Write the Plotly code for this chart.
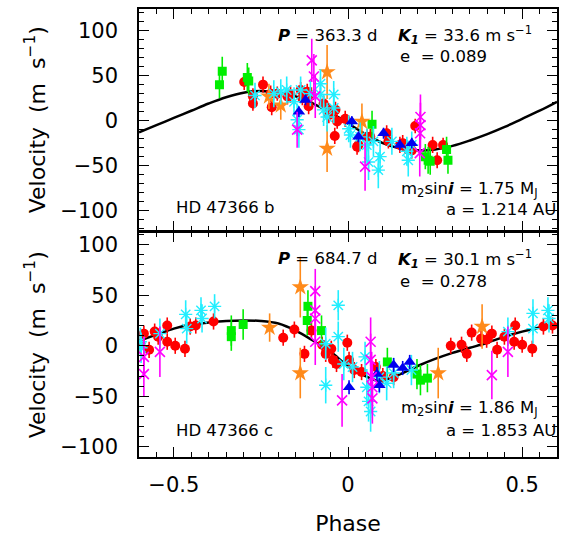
import plotly.graph_objects as go

# ---------------- Panel b (top) ----------------
b_curve_phase = [-0.6, -0.55, -0.5, -0.45, -0.4, -0.35, -0.3, -0.25, -0.2, -0.15, -0.1, -0.05,
                 0.0, 0.05, 0.1, 0.15, 0.2, 0.25, 0.3, 0.35, 0.4, 0.45, 0.5, 0.55, 0.6]
b_curve_rv = [-13, -5, 3, 11, 19, 26, 31, 33, 31, 27, 19, 9,
              -3, -15, -25, -31, -33, -32, -28, -22, -15, -7, 2, 11, 21]

b_red_phase = [-0.298, -0.273, -0.273, -0.244, -0.222, -0.219, -0.203, -0.174, -0.165, -0.136,
               -0.131, -0.117, -0.113, -0.105, -0.070, -0.060, -0.055, -0.036, -0.031, -0.008,
               -0.038, 0.026, 0.030, 0.054, 0.064, 0.111, 0.116, 0.149, 0.157, 0.164, 0.183,
               0.193, 0.243, 0.256, 0.273]
b_red_rv = [43, 27, 19, 40, 30, 15, 30, 27, 29, 34,
            25, 32, 16, 28, 19, 14, 6, 12, -1, 2,
            -17, -29, -27, -18, -18, -14, -23, -27, -25, -29, -33,
            -6, -27, -44, -27]
b_red_err = [9, 9, 8, 9, 9, 9, 8, 9, 9, 9,
             8, 9, 9, 9, 9, 8, 9, 9, 8, 9,
             9, 9, 8, 9, 9, 9, 8, 9, 9, 8, 9,
             8, 9, 9, 8]

b_cyan_phase = [-0.267, -0.213, -0.193, -0.176, -0.155, -0.146, -0.141, -0.136, -0.108, -0.079,
                -0.079, -0.070, -0.060, -0.041, -0.041, 0.002, 0.007, 0.035, 0.054, 0.059,
                0.073, 0.087, 0.092, 0.126, 0.169, 0.173, 0.183]
b_cyan_rv = [28, 30, 32, 34, 21, 1, -10, 34, 30, 41,
             29, 12, 4, 29, 14, -9, -16, -18, -27, -46,
             -23, -55, -40, -23, -34, -44, -27]
b_cyan_err = [14, 15, 14, 15, 16, 18, 20, 15, 14, 16,
              15, 18, 16, 15, 17, 15, 14, 16, 18, 20,
              17, 20, 18, 15, 16, 18, 15]

b_mag_phase = [-0.146, -0.104, -0.098, -0.094, 0.049, 0.208, 0.208, 0.207, 0.206]
b_mag_rv = [-10, 67, 49, 27, -51, 4, -5, -14, -36]
b_mag_err = [20, 24, 25, 24, 27, 25, 25, 24, 26]

b_green_phase = [-0.369, -0.361, -0.289, -0.285, 0.069, 0.222, 0.230, 0.236, 0.283, 0.287]
b_green_rv = [40, 55, 48, 44, -4, -40, -44, -45, -32, -44]
b_green_err = [15, 16, 16, 15, 15, 14, 15, 15, 14, 15]

b_orange_phase = [-0.227, -0.193, -0.060, -0.060, 0.040]
b_orange_rv = [27, 17, 54, -31, -1]
b_orange_err = [14, 16, 30, 26, 20]

b_blue_phase = [-0.141, -0.122, 0.011, 0.030, 0.102, 0.149, 0.183]
b_blue_rv = [10, 23, -1, -18, -14, -27, -25]
b_blue_err = [6, 6, 6, 6, 6, 6, 6]

# ---------------- Panel c (bottom) ----------------
c_curve_phase = [-0.6, -0.55, -0.5, -0.45, -0.4, -0.35, -0.3, -0.25, -0.2, -0.15, -0.1, -0.05,
                 0.0, 0.05, 0.08, 0.1, 0.15, 0.2, 0.25, 0.3, 0.35, 0.4, 0.45, 0.5, 0.55, 0.6]
c_curve_rv = [5, 11, 17, 21, 23, 24.5, 25, 24.5, 22, 15, 5, -6,
              -20, -30, -34, -34, -28, -20, -13, -7, -2, 3, 9, 14, 18, 21]

c_red_phase = [-0.596, -0.586, -0.571, -0.555, -0.545, -0.519, -0.519, -0.496, -0.468, -0.453,
               -0.437, -0.386, -0.186, -0.154, -0.125, -0.105, -0.074, -0.064, -0.048, -0.043,
               -0.033, -0.002, 0.003, 0.018, 0.039, 0.080, 0.100, 0.131, 0.295, 0.326,
               0.341, 0.355, 0.382, 0.398, 0.413, 0.428, 0.449, 0.480, 0.477, 0.500,
               0.529, 0.561, 0.587]
c_red_rv = [2, 12, -4, 14, 9, 20, 4, 0, -3, 19,
            20, 24, 8, 16, -8, 15, 1, -8, -3, -14,
            -18, 3, -14, -24, -26, -21, -30, -31, 0, 1,
            -8, 13, 7, 6, 12, -4, 9, 20, 4, 1,
            -3, 19, 20]
c_red_err = [8, 8, 8, 8, 8, 8, 8, 8, 8, 8,
             8, 8, 8, 8, 8, 8, 8, 8, 8, 8,
             8, 8, 8, 8, 8, 8, 8, 8, 8, 8,
             8, 8, 8, 8, 8, 8, 8, 8, 8, 8,
             8, 8, 8]

c_cyan_phase = [-0.596, -0.594, -0.540, -0.466, -0.463, -0.422, -0.419, -0.383, -0.064, -0.064,
                -0.028, -0.028, -0.012, 0.013, 0.049, 0.054, 0.059, 0.065, 0.090, 0.111,
                0.131, 0.182, 0.459, 0.531, 0.531, 0.574, 0.577]
c_cyan_rv = [4, -2, 12, 31, 17, 35, 27, 39, 2, -39,
             40, 9, -18, -21, -11, -41, -55, -65, -31, -37,
             -27, -24, 14, 32, 17, 35, 27]
c_cyan_err = [14, 15, 15, 14, 15, 13, 14, 12, 16, 18,
              15, 15, 16, 15, 15, 18, 20, 20, 16, 17,
              15, 15, 14, 14, 15, 13, 14]

c_mag_phase = [-0.586, -0.586, -0.540, -0.094, -0.094, -0.094, -0.094, -0.017, 0.065, 0.065,
               0.068, 0.070, 0.070, 0.413, 0.459]
c_mag_rv = [-11, -28, -6, 54, 35, 27, 4, -54, 4, -14,
            -31, -41, -52, -29, -6]
c_mag_err = [20, 22, 25, 22, 24, 22, 23, 26, 24, 26,
             25, 26, 25, 24, 25]

c_green_phase = [-0.335, -0.335, -0.301, -0.115, -0.117, -0.076, 0.113, 0.198, 0.208, 0.228]
c_green_rv = [15, 9, 21, 39, 25, 15, -16, -28, -34, -32]
c_green_err = [15, 14, 15, 16, 15, 15, 14, 15, 15, 14]

c_orange_phase = [-0.225, -0.137, -0.137, 0.259, 0.385]
c_orange_rv = [18, 58, -27, -27, 19]
c_orange_err = [14, 30, 25, 25, 22]

c_blue_phase = [0.003, 0.083, 0.090, 0.131, 0.157, 0.177]
c_blue_rv = [-41, -28, -39, -19, -22, -16]
c_blue_err = [7, 7, 7, 7, 7, 7]

RED = "#ff0000"
CYAN = "#22eeff"
MAG = "#ff00ff"
GREEN = "#00ee00"
ORANGE = "#ff8a1a"
BLUE = "#0000ee"

fig = go.Figure()


def add_panel(xa, ya, curve_x, curve_y, sets):
    fig.add_trace(go.Scatter(x=curve_x, y=curve_y, mode="lines", line=dict(color="black", width=2.5, shape="spline"),
                             xaxis=xa, yaxis=ya, hoverinfo="skip", showlegend=False))
    for (px, py, pe, color, symbol, size, lw) in sets:
        fig.add_trace(go.Scatter(
            x=px, y=py, mode="markers", xaxis=xa, yaxis=ya, showlegend=False,
            marker=dict(color=color, symbol=symbol, size=size, line=dict(color=color, width=lw)),
            error_y=dict(type="data", array=pe, visible=True, color=color, thickness=1.6, width=0)))


sets_b = [
    (b_red_phase, b_red_rv, b_red_err, RED, "circle", 10, 0),
    (b_green_phase, b_green_rv, b_green_err, GREEN, "square", 9, 0),
    (b_orange_phase, b_orange_rv, b_orange_err, ORANGE, "star", 13, 0),
    (b_cyan_phase, b_cyan_rv, b_cyan_err, CYAN, "asterisk-open", 11, 1.4),
    (b_blue_phase, b_blue_rv, b_blue_err, BLUE, "triangle-up", 11, 0),
    (b_mag_phase, b_mag_rv, b_mag_err, MAG, "x-thin-open", 10, 1.6),
]
sets_c = [
    (c_red_phase, c_red_rv, c_red_err, RED, "circle", 10, 0),
    (c_green_phase, c_green_rv, c_green_err, GREEN, "square", 9, 0),
    (c_orange_phase, c_orange_rv, c_orange_err, ORANGE, "star", 13, 0),
    (c_cyan_phase, c_cyan_rv, c_cyan_err, CYAN, "asterisk-open", 11, 1.4),
    (c_blue_phase, c_blue_rv, c_blue_err, BLUE, "triangle-up", 11, 0),
    (c_mag_phase, c_mag_rv, c_mag_err, MAG, "x-thin-open", 10, 1.6),
]

add_panel("x2", "y2", b_curve_phase, b_curve_rv, sets_b)
add_panel("x", "y", c_curve_phase, c_curve_rv, sets_c)

FONT = "DejaVu Sans"
axis_common = dict(showline=True, linecolor="black", linewidth=1.5, mirror="allticks",
                   ticks="inside", tickcolor="black", tickwidth=1.2, showgrid=False, zeroline=False,
                   automargin=False)

x_ticks = [-0.5, 0, 0.5]
x_ticktext = ["\u22120.5", "0", "0.5"]
y_ticks = [-100, -50, 0, 50, 100]
y_ticktext = ["\u2212100", "\u221250", "0", "50", "100"]

ytitle = "Velocity  (m  s<sup>\u22121</sup>)"

fig.update_layout(
    width=561, height=537, paper_bgcolor="white", plot_bgcolor="white",
    margin=dict(l=139, r=4, t=9, b=80),
    font=dict(family=FONT, color="black"),
    xaxis=dict(domain=[0, 1], anchor="y", range=[-0.6, 0.6], tickvals=x_ticks, ticktext=x_ticktext,
               ticklen=10, minor=dict(dtick=0.05, ticklen=5, ticks="inside", tickcolor="black"),
               tickfont=dict(size=21), ticklabelstandoff=8,
               title=dict(text="Phase", font=dict(size=22), standoff=20),
               **axis_common),
    xaxis2=dict(domain=[0, 1], anchor="y2", range=[-0.6, 0.6], tickvals=x_ticks, showticklabels=False,
                ticklen=10, minor=dict(dtick=0.05, ticklen=5, ticks="inside", tickcolor="black"),
                **axis_common),
    yaxis=dict(domain=[0, 0.5011], anchor="x", range=[-110, 112], tickvals=y_ticks, ticktext=y_ticktext,
               ticklen=10, minor=dict(dtick=10, ticklen=5, ticks="inside", tickcolor="black"),
               tickfont=dict(size=21), ticklabelstandoff=15,
               title=dict(text=ytitle, font=dict(size=22), standoff=9),
               **axis_common),
    yaxis2=dict(domain=[0.5056, 1], anchor="x2", range=[-122, 124], tickvals=y_ticks, ticktext=y_ticktext,
                ticklen=10, minor=dict(dtick=10, ticklen=5, ticks="inside", tickcolor="black"),
                tickfont=dict(size=21), ticklabelstandoff=15,
                title=dict(text=ytitle, font=dict(size=22), standoff=9),
                **axis_common),
)

ann_font = dict(family=FONT, size=16.5, color="black")


def ann(xa, ya, x, y, text, xanchor="left"):
    fig.add_annotation(xref=xa, yref=ya, x=x, y=y, text=text, showarrow=False,
                       xanchor=xanchor, yanchor="middle", font=ann_font, borderpad=0)


# top panel annotations
ann("x2", "y2", -0.205, 95, "<b><i>P</i></b> = 363.3 d")
ann("x2", "y2", 0.140, 95, "<b><i>K</i></b><sub><b><i>1</i></b></sub> = 33.6 m s<sup>\u22121</sup>")
ann("x2", "y2", 0.145, 71, "e  = 0.089")
ann("x2", "y2", 0.150, -77, "m<sub>2</sub>sin<b><i>i</i></b> = 1.75 M<sub>J</sub>")
ann("x2", "y2", 0.60, -99, "a = 1.214 AU", xanchor="right")
ann("x2", "y2", -0.497, -97, "HD 47366 b")

# bottom panel annotations
ann("x", "y", -0.205, 86, "<b><i>P</i></b> = 684.7 d")
ann("x", "y", 0.140, 86, "<b><i>K</i></b><sub><b><i>1</i></b></sub> = 30.1 m s<sup>\u22121</sup>")
ann("x", "y", 0.145, 64, "e  = 0.278")
ann("x", "y", 0.150, -62, "m<sub>2</sub>sin<b><i>i</i></b> = 1.86 M<sub>J</sub>")
ann("x", "y", 0.60, -84, "a = 1.853 AU", xanchor="right")
ann("x", "y", -0.497, -84, "HD 47366 c")

fig.write_html("out.html", config={"displayModeBar": False},
               post_script="document.body.style.margin='0';document.body.style.overflow='hidden';")
